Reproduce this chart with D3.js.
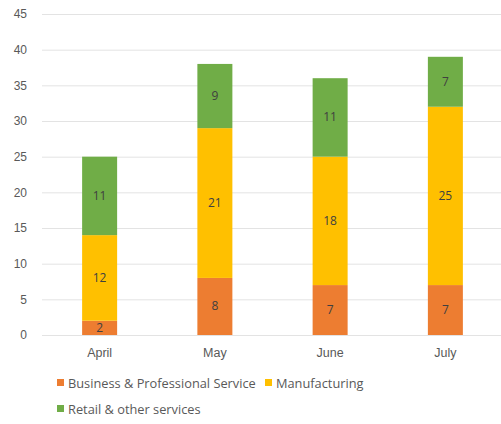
<!DOCTYPE html>
<html>
<head>
<meta charset="utf-8">
<script src="https://cdn.jsdelivr.net/npm/d3@7"></script>
<style>
  html, body { margin: 0; padding: 0; background: #fff; }
  svg { display: block; font-family: "Open Sans", "Liberation Sans", sans-serif; }
</style>
</head>
<body>
<svg id="chart" width="501" height="424"></svg>
<script>
// Monthly counts by sector, stacked bottom to top
const months = ["April", "May", "June", "July"];
const business = [2, 8, 7, 7];
const manufacturing = [12, 21, 18, 25];
const retail = [11, 9, 11, 7];
const seriesNames = ["Business & Professional Service", "Manufacturing", "Retail & other services"];
const seriesColors = ["#ED7D31", "#FFC000", "#70AD47"];
const yTicks = [0, 5, 10, 15, 20, 25, 30, 35, 40, 45];

const svg = d3.select("#chart");
const plotLeft = 42, plotRight = 503, plotTop = 14, plotBottom = 335;

const x = d3.scaleBand().domain(months).range([plotLeft, plotRight]).paddingInner(0.7).paddingOuter(0.35);
const y = d3.scaleLinear().domain([0, 45]).range([plotBottom, plotTop]);

// gridlines
svg.append("g").selectAll("line").data(yTicks).join("line")
  .attr("x1", plotLeft).attr("x2", 501)
  .attr("y1", d => y(d) + 0.5).attr("y2", d => y(d) + 0.5)
  .attr("stroke", "#e3e3e3").attr("stroke-width", 1);

// y axis labels
const yAxis = d3.axisLeft(y).tickValues(yTicks).tickSize(0).tickPadding(0);
const gy = svg.append("g").attr("transform", `translate(27,0)`).call(yAxis);
gy.select(".domain").remove();
gy.selectAll("text").attr("fill", "#595959").attr("font-size", 12);

// stacked data
const table = months.map((m, i) => ({ month: m, s0: business[i], s1: manufacturing[i], s2: retail[i] }));
const stack = d3.stack().keys(["s0", "s1", "s2"])(table);

const barW = 35;
stack.forEach((layer, k) => {
  const g = svg.append("g");
  g.selectAll("rect").data(layer).join("rect")
    .attr("x", d => x(d.data.month) + x.bandwidth() / 2 - barW / 2)
    .attr("width", barW)
    .attr("y", d => y(d[1]))
    .attr("height", d => y(d[0]) - y(d[1]))
    .attr("fill", seriesColors[k]);
  g.selectAll("text").data(layer).join("text")
    .attr("x", d => x(d.data.month) + x.bandwidth() / 2)
    .attr("y", d => (y(d[0]) + y(d[1])) / 2 + 4)
    .attr("text-anchor", "middle")
    .attr("font-size", 12)
    .attr("fill", "#404040")
    .text(d => d[1] - d[0]);
});

// x axis labels
const xAxis = d3.axisBottom(x).tickSize(0).tickPadding(0);
const gx = svg.append("g").attr("transform", `translate(0,${plotBottom + 13})`).call(xAxis);
gx.select(".domain").remove();
gx.selectAll("text").attr("fill", "#595959").attr("font-size", 12.5);

// legend
const legendItems = [
  { name: seriesNames[0], color: seriesColors[0], x: 57, y: 383 },
  { name: seriesNames[1], color: seriesColors[1], x: 265, y: 383 },
  { name: seriesNames[2], color: seriesColors[2], x: 57, y: 409 }
];
const lg = svg.append("g").selectAll("g").data(legendItems).join("g")
  .attr("transform", d => `translate(${d.x},${d.y})`);
lg.append("rect").attr("x", 0).attr("y", -4).attr("width", 7).attr("height", 7).attr("fill", d => d.color);
lg.append("text").attr("x", 11).attr("y", 4.5).attr("font-size", 12.8).attr("fill", "#595959").text(d => d.name);
</script>
</body>
</html>
